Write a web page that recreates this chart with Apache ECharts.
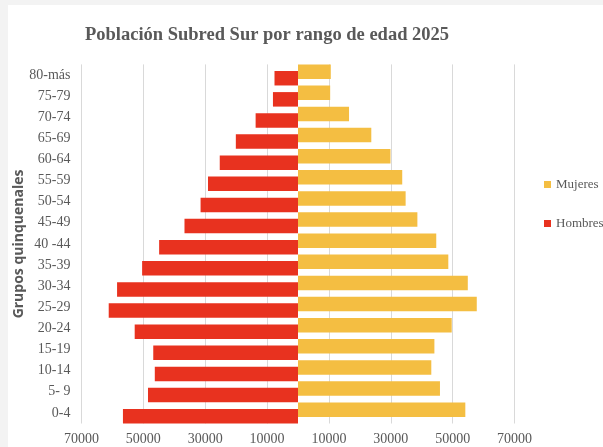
<!DOCTYPE html>
<html>
<head>
<meta charset="utf-8">
<script src="https://cdn.jsdelivr.net/npm/echarts@6/dist/echarts.min.js"></script>
<style>
html,body{margin:0;padding:0;background:#f3f3f3;}
#c{width:603px;height:447px;}
</style>
</head>
<body>
<div id="c"></div>
<script>
const categories = ['0-4','5- 9','10-14','15-19','20-24','25-29','30-34','35-39','40 -44','45-49','50-54','55-59','60-64','65-69','70-74','75-79','80-más'];
const mujeres = [54100,45900,43100,44100,49700,57800,54900,48600,44700,38600,34800,33700,29900,23700,16500,10400,10600];
const hombres = [56600,48500,46300,46800,52800,61200,58500,50400,44900,36700,31500,29100,25300,20100,13700,8100,7600];
const tickLabels = [70000,50000,30000,10000];

const serif = 'Liberation Serif';
const grey = '#595959';
const chart = echarts.init(document.getElementById('c'));
chart.setOption({
  backgroundColor: '#f3f3f3',
  animation: false,
  graphic: [{type:'rect', z:-10, shape:{x:8,y:5,width:600,height:447}, style:{fill:'#ffffff'}}],
  title: {
    text: 'Población Subred Sur por rango de edad 2025',
    left: 80, top: 21,
    textStyle: {fontFamily: serif, fontWeight: 'bold', fontSize: 18.5, color: grey}
  },
  legend: {
    data: ['Mujeres','Hombres'],
    orient: 'vertical',
    left: 539, top: 173,
    itemWidth: 7, itemHeight: 7, itemGap: 26,
    icon: 'rect',
    textStyle: {fontFamily: serif, fontSize: 13, color: grey}
  },
  grid: {left: 81.5, right: 88.5, top: 64.4, bottom: 23.5, containLabel: false, outerBoundsMode: 'none'},
  xAxis: {
    type: 'value', min: -70000, max: 70000, interval: 10000,
    axisLine: {show: false}, axisTick: {show: false},
    splitLine: {show: true, lineStyle: {color: ['#d9d9d9','rgba(0,0,0,0)'], width: 1}},
    axisLabel: {
      margin: 9, fontFamily: serif, fontSize: 14, color: grey,
      formatter: function(v){ const a = Math.abs(v); return tickLabels.indexOf(a) >= 0 ? String(a) : ''; }
    }
  },
  yAxis: {
    type: 'category', data: categories,
    name: 'Grupos quinquenales', nameLocation: 'middle', nameGap: 55, nameRotate: 90,
    nameMoveOverlap: false,
    nameTextStyle: {fontFamily: 'Open Sans', fontWeight: 'bold', fontSize: 14, color: grey},
    axisLine: {show: false}, axisTick: {show: false},
    axisLabel: {margin: 11, fontFamily: serif, fontSize: 14, color: grey}
  },
  series: [
    {name: 'Mujeres', type: 'bar', data: mujeres, barWidth: 14.5, barGap: '-55%', itemStyle: {color: '#F4BE42'}},
    {name: 'Hombres', type: 'bar', data: hombres.map(v => -v), barWidth: 14.5, barGap: '-55%', itemStyle: {color: '#E8321F'}}
  ]
});
</script>
</body>
</html>
